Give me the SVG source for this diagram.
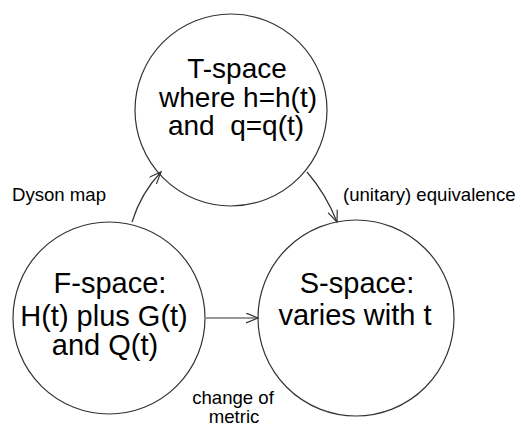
<svg xmlns="http://www.w3.org/2000/svg" width="521" height="433" viewBox="0 0 521 433">
<style>
.node circle{fill:#fff;stroke:#333;stroke-width:1.2}
.big{font-family:"Liberation Sans",Arial,sans-serif;font-size:29px;fill:#000;text-anchor:middle}
.t28{font-size:28px}
.lbl{font-family:"Liberation Sans",Arial,sans-serif;font-size:18.6px;fill:#000}
.edge{fill:none;stroke:#333;stroke-width:1.2}
</style>
<defs>
<marker id="arr" markerUnits="userSpaceOnUse" markerWidth="14" markerHeight="12" refX="12" refY="5" orient="auto">
<path d="M0,0 L12,5 L0,10" fill="none" stroke="#333" stroke-width="1.2"/>
</marker>
</defs>
<rect width="521" height="433" fill="#fff"/>
<g id="T" class="node">
<circle cx="231" cy="110" r="96"/>
<text class="big t28" x="237" y="78">T-space</text>
<text class="big t28" x="238" y="107">where h=h(t)</text>
<text class="big t28" x="236" y="135" xml:space="preserve">and  q=q(t)</text>
</g>
<g id="F" class="node">
<circle cx="109" cy="318" r="96"/>
<text class="big" x="110" y="293">F-space:</text>
<text class="big" x="104" y="326">H(t) plus G(t)</text>
<text class="big" x="105" y="355">and Q(t)</text>
</g>
<g id="S" class="node">
<circle cx="356" cy="318" r="98"/>
<text class="big" x="357" y="293">S-space:</text>
<text class="big" x="355" y="325">varies with t</text>
</g>
<g id="connectors">
<path class="edge" d="M132,222 Q141,193 161,172" marker-end="url(#arr)"/>
<path class="edge" d="M307,172 Q326,194 337,222" marker-end="url(#arr)"/>
<path class="edge" d="M206,318 L258,318" marker-end="url(#arr)"/>
</g>
<g id="labels">
<text class="lbl" x="12" y="201">Dyson map</text>
<text class="lbl" x="343" y="201">(unitary) equivalence</text>
<text class="lbl" x="233" y="404" text-anchor="middle">change of</text>
<text class="lbl" x="234" y="423" text-anchor="middle">metric</text>
</g>
</svg>
